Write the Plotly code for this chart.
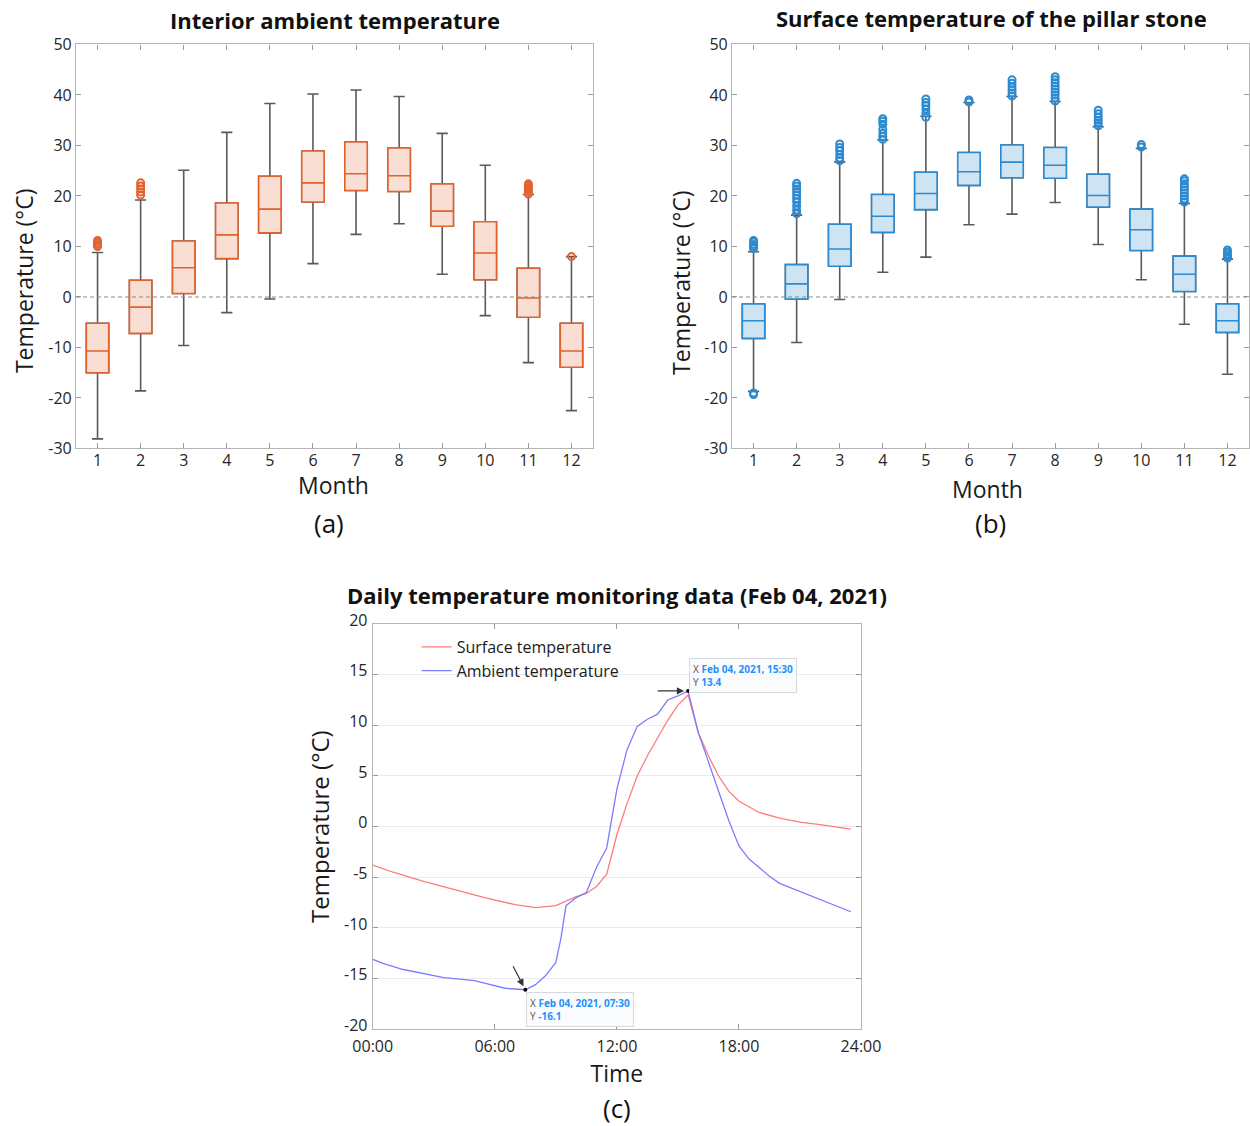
import plotly.graph_objects as go

# ---------------- data ----------------
months = [1, 2, 3, 4, 5, 6, 7, 8, 9, 10, 11, 12]
temp_ticks_ab = [-30, -20, -10, 0, 10, 20, 30, 40, 50]
temp_labels_ab = ["-30", "-20", "-10", "0", "10", "20", "30", "40", "50"]
temp_ticks_c = [-20, -15, -10, -5, 0, 5, 10, 15, 20]
temp_labels_c = ["-20", "-15", "-10", "-5", "0", "5", "10", "15", "20"]

# (a) Interior ambient temperature
amb_low = [-28.1, -18.6, -9.6, -3.1, -0.4, 6.6, 12.4, 14.5, 4.5, -3.7, -13.0, -22.5]
amb_q1 = [-15.0, -7.2, 0.7, 7.6, 12.7, 18.8, 21.1, 20.9, 14.0, 3.4, -4.0, -13.9]
amb_med = [-10.7, -2.0, 5.8, 12.3, 17.4, 22.6, 24.4, 24.0, 17.0, 8.7, -0.2, -10.7]
amb_q3 = [-5.2, 3.3, 11.1, 18.6, 23.9, 28.9, 30.7, 29.5, 22.4, 14.9, 5.7, -5.2]
amb_high = [8.8, 19.2, 25.1, 32.6, 38.3, 40.2, 41.0, 39.7, 32.4, 26.1, 20.3, 8.0]
amb_out_month = [1, 1, 1, 1, 2, 2, 2, 2, 2, 11, 11, 11, 11, 11, 11, 12]
amb_out_value = [10.0, 10.4, 10.8, 11.2, 20.2, 20.8, 21.4, 22.0, 22.6,
                 20.4, 20.9, 21.3, 21.7, 22.1, 22.4, 8.0]

# (b) Surface temperature of the pillar stone
srf_low = [-18.7, -9.0, -0.5, 4.9, 7.9, 14.3, 16.4, 18.7, 10.4, 3.4, -5.4, -15.3]
srf_q1 = [-8.2, -0.4, 6.1, 12.8, 17.3, 22.1, 23.6, 23.5, 17.8, 9.2, 1.1, -7.0]
srf_med = [-4.7, 2.6, 9.5, 16.0, 20.5, 24.8, 26.7, 26.1, 20.1, 13.3, 4.5, -4.7]
srf_q3 = [-1.4, 6.4, 14.4, 20.3, 24.7, 28.6, 30.1, 29.6, 24.3, 17.4, 8.1, -1.4]
srf_high = [8.95, 16.2, 26.7, 31.1, 35.8, 38.5, 39.7, 38.7, 33.7, 29.4, 18.5, 7.5]
srf_out_month = [1, 1, 1, 1, 1, 1, 1,
                 2, 2, 2, 2, 2, 2, 2, 2, 2, 2,
                 3, 3, 3, 3, 3, 3,
                 4, 4, 4, 4, 4, 4, 4,
                 5, 5, 5, 5, 5, 5,
                 6, 6,
                 7, 7, 7, 7, 7, 7,
                 8, 8, 8, 8, 8, 8, 8, 8, 8,
                 9, 9, 9, 9, 9, 9,
                 10, 10,
                 11, 11, 11, 11, 11, 11, 11, 11, 11,
                 12, 12, 12, 12, 12]
srf_out_value = [9.6, 10.0, 10.4, 10.9, 11.2, -19.0, -19.3,
                 16.5, 17.2, 18.0, 18.8, 19.5, 20.2, 20.8, 21.4, 22.0, 22.5,
                 27.0, 27.5, 28.2, 29.0, 29.6, 30.3,
                 31.2, 31.8, 32.4, 33.2, 34.2, 34.8, 35.3,
                 35.6, 36.4, 37.2, 37.9, 38.5, 39.2,
                 38.6, 39.0,
                 39.8, 40.4, 41.0, 41.6, 42.3, 43.0,
                 38.8, 39.4, 40.0, 40.6, 41.2, 41.8, 42.4, 43.0, 43.6,
                 33.9, 34.5, 35.0, 35.6, 36.3, 37.0,
                 29.7, 30.2,
                 18.8, 19.4, 20.0, 20.6, 21.2, 21.8, 22.4, 23.0, 23.4,
                 7.7, 8.1, 8.5, 8.9, 9.3]

# (c) Daily monitoring, Feb 04 2021 (hours of day)
surface_hours = [0.0, 1.0, 2.5, 4.0, 5.5, 7.0, 8.0, 9.0, 10.0, 10.5, 11.0, 11.5,
                 12.0, 12.5, 13.0, 13.5, 14.0, 14.5, 15.0, 15.5, 16.0, 16.5,
                 17.0, 17.5, 18.0, 19.0, 20.0, 21.0, 22.0, 23.5]
surface_temp = [-3.8, -4.5, -5.4, -6.2, -7.0, -7.7, -8.0, -7.8, -6.9, -6.6, -5.9, -4.7,
                -0.8, 2.3, 5.0, 7.0, 8.8, 10.5, 12.0, 13.0, 9.3, 7.0,
                5.0, 3.5, 2.5, 1.4, 0.85, 0.45, 0.2, -0.25]
ambient_hours = [0.0, 0.5, 1.5, 2.5, 3.5, 5.0, 6.0, 6.5, 7.5, 8.0, 8.5, 9.0, 9.25,
                 9.5, 10.0, 10.5, 11.0, 11.5, 12.0, 12.5, 13.0, 13.5, 14.0, 14.5,
                 15.0, 15.5, 16.0, 16.5, 17.0, 17.5, 18.0, 18.5, 19.5, 20.0, 20.5,
                 21.5, 22.5, 23.5]
ambient_temp = [-13.1, -13.5, -14.1, -14.5, -14.9, -15.2, -15.7, -15.95, -16.1, -15.6,
                -14.7, -13.4, -11.0, -7.8, -7.0, -6.5, -4.0, -2.1, 3.7, 7.6, 9.9,
                10.6, 11.1, 12.5, 12.9, 13.4, 9.3, 6.3, 3.5, 0.6, -1.9, -3.2, -4.9,
                -5.6, -6.0, -6.8, -7.6, -8.4]
time_ticks = [0, 6, 12, 18, 24]
time_labels = ["00:00", "06:00", "12:00", "18:00", "24:00"]
tip_hours = [15.5, 7.5]
tip_temps = [13.4, -16.1]
tip_labels = ["Feb 04, 2021, 15:30", "Feb 04, 2021, 07:30"]

# ---------------- styles ----------------
FONT = "Open Sans"
ORANGE = "#E2622F"
ORANGE_FILL = "#F8DED3"
BLUE = "#2B8AD0"
BLUE_FILL = "#CFE4F3"
WHISK = "#5A5A5A"

fig = go.Figure()


def add_boxes(xa, ya, low, q1, med, q3, high, edge, fill, om, ov, name):
    # whiskers (gray)
    fig.add_trace(go.Box(
        x=months, q1=q1, median=med, q3=q3, lowerfence=low, upperfence=high,
        xaxis=xa, yaxis=ya, width=0.52, whiskerwidth=0.5,
        line=dict(color=WHISK, width=1.6), fillcolor="rgba(0,0,0,0)",
        boxpoints=False, showlegend=False, name=name + " whiskers", hoverinfo="skip"))
    # boxes (coloured)
    fig.add_trace(go.Box(
        x=months, q1=q1, median=med, q3=q3, lowerfence=q1, upperfence=q3,
        xaxis=xa, yaxis=ya, width=0.52, whiskerwidth=0,
        line=dict(color=edge, width=1.6), fillcolor=fill,
        boxpoints=False, showlegend=False, name=name))
    fig.add_trace(go.Scatter(
        x=om, y=ov, xaxis=xa, yaxis=ya, mode="markers",
        marker=dict(symbol="circle-open", size=7, color=edge, line=dict(width=2, color=edge)),
        showlegend=False, name=name + " outliers"))


add_boxes("x", "y", amb_low, amb_q1, amb_med, amb_q3, amb_high, ORANGE, ORANGE_FILL,
          amb_out_month, amb_out_value, "Interior ambient")
add_boxes("x2", "y2", srf_low, srf_q1, srf_med, srf_q3, srf_high, BLUE, BLUE_FILL,
          srf_out_month, srf_out_value, "Surface")

fig.add_trace(go.Scatter(x=surface_hours, y=surface_temp, xaxis="x3", yaxis="y3",
                         mode="lines", line=dict(color="#FF7B7B", width=1.3),
                         name="Surface temperature"))
fig.add_trace(go.Scatter(x=ambient_hours, y=ambient_temp, xaxis="x3", yaxis="y3",
                         mode="lines", line=dict(color="#7C7CFF", width=1.3),
                         name="Ambient temperature"))
fig.add_trace(go.Scatter(x=tip_hours, y=tip_temps, xaxis="x3", yaxis="y3",
                         mode="markers", marker=dict(color="black", size=4),
                         showlegend=False, name="data tips"))

tickfont = dict(family=FONT, size=16, color="#262626")
titlefont = dict(family=FONT, size=23, color="#1a1a1a")
axcommon = dict(showline=True, linecolor="#B5B5B5", linewidth=1.2, mirror="allticks",
                ticks="inside", ticklen=5, tickcolor="#9a9a9a", tickwidth=1,
                showgrid=False, zeroline=False, tickfont=tickfont, automargin=False)

fig.update_layout(
    width=1250, height=1126, margin=dict(l=0, r=0, t=0, b=0),
    paper_bgcolor="white", plot_bgcolor="white", boxmode="overlay",
    xaxis=dict(domain=[0.0608, 0.4744], range=[0.5, 12.5], tickvals=months,
               ticklabelstandoff=-3, anchor="y", **axcommon),
    yaxis=dict(domain=[0.6017, 0.9605], range=[-30, 50], tickvals=temp_ticks_ab,
               ticktext=temp_labels_ab, anchor="x", **axcommon),
    xaxis2=dict(domain=[0.5856, 0.9992], range=[0.5, 12.5], tickvals=months,
                ticklabelstandoff=-3, anchor="y2", **axcommon),
    yaxis2=dict(domain=[0.6017, 0.9605], range=[-30, 50], tickvals=temp_ticks_ab,
                ticktext=temp_labels_ab, anchor="x2", **axcommon),
    xaxis3=dict(domain=[0.2982, 0.6888], range=[0, 24], tickvals=time_ticks,
                ticktext=time_labels, anchor="y3", ticklabelstandoff=2,
                title=dict(text="Time", font=titlefont, standoff=0), **axcommon),
    yaxis3=dict(domain=[0.0859, 0.4458], range=[-20, 20], tickvals=temp_ticks_c,
                ticktext=temp_labels_c, anchor="x3", ticklabelstandoff=1, ticklabelshift=-4,
                title=dict(text="Temperature (°C)", font=dict(family=FONT, size=24, color="#1a1a1a"),
                           standoff=7),
                **{**axcommon, "showgrid": True, "gridcolor": "#EBEBEB"}),
    legend=dict(x=0.3333, y=0.4405, xanchor="left", yanchor="top",
                bgcolor="rgba(255,255,255,0)", font=dict(family=FONT, size=16, color="#1a1a1a"),
                tracegroupgap=0, itemwidth=30),
)

# zero reference lines
for xr, yr in (("x", "y"), ("x2", "y2")):
    fig.add_shape(type="line", xref=xr + " domain", yref=yr, x0=0, x1=1, y0=0, y1=0,
                  line=dict(color="#8A8A8A", width=1.2, dash="4px,3px"))

# axis titles of the two box panels
for txt, x, y, ang in (("Temperature (°C)", 0.0192, 0.7504, -90),
                       ("Temperature (°C)", 0.5448, 0.7496, -90),
                       ("Month", 0.2664, 0.5690, 0),
                       ("Month", 0.7896, 0.5660, 0)):
    fig.add_annotation(text=txt, x=x, y=y, xref="paper", yref="paper", textangle=ang,
                       showarrow=False, font=titlefont, xanchor="center", yanchor="middle")

# titles and panel labels
ttl = dict(family=FONT, size=22, color="#111111")
for txt, x, y in (("<b>Interior ambient temperature</b>", 0.2676, 0.9825),
                  ("<b>Surface temperature of the pillar stone</b>", 0.7935, 0.9840),
                  ("<b>Daily temperature monitoring data (Feb 04, 2021)</b>", 0.4935, 0.4715)):
    fig.add_annotation(text=txt, x=x, y=y, xref="paper", yref="paper",
                       showarrow=False, font=ttl, xanchor="center", yanchor="middle")
lab = dict(family=FONT, size=26, color="#111111")
for txt, x, y in (("(a)", 0.2632, 0.5355), ("(b)", 0.7920, 0.5355), ("(c)", 0.4936, 0.0160)):
    fig.add_annotation(text=txt, x=x, y=y, xref="paper", yref="paper",
                       showarrow=False, font=lab, xanchor="center", yanchor="middle")

# data tips
tipfont = dict(family=FONT, size=10, color="#1E90FF")
fig.add_annotation(x=tip_hours[0], y=tip_temps[0], xref="x3", yref="y3",
                   text="<span style='color:#555'>X</span> <b>%s</b><br><span style='color:#555'>Y</span> <b>%s</b>"
                   % (tip_labels[0], tip_temps[0]),
                   showarrow=False, xanchor="left", yanchor="bottom", xshift=1, yshift=-2,
                   align="left", font=tipfont, bgcolor="rgba(250,251,253,0.95)",
                   bordercolor="#D5D9E0", borderwidth=1, borderpad=3)
fig.add_annotation(x=tip_hours[1], y=tip_temps[1], xref="x3", yref="y3",
                   text="<span style='color:#555'>X</span> <b>%s</b><br><span style='color:#555'>Y</span> <b>%s</b>"
                   % (tip_labels[1], tip_temps[1]),
                   showarrow=False, xanchor="left", yanchor="top", xshift=1, yshift=-2,
                   align="left", font=tipfont, bgcolor="rgba(250,251,253,0.95)",
                   bordercolor="#D5D9E0", borderwidth=1, borderpad=3)
# arrows
fig.add_annotation(x=tip_hours[0], y=tip_temps[0], xref="x3", yref="y3", text="",
                   showarrow=True, arrowhead=2, arrowsize=1.2, arrowwidth=1.2,
                   arrowcolor="#333", ax=-32, ay=0, standoff=4)
fig.add_annotation(x=tip_hours[1], y=tip_temps[1], xref="x3", yref="y3", text="",
                   showarrow=True, arrowhead=2, arrowsize=1.2, arrowwidth=1.2,
                   arrowcolor="#333", ax=-13, ay=-25, standoff=4)

fig.write_html("out.html")
